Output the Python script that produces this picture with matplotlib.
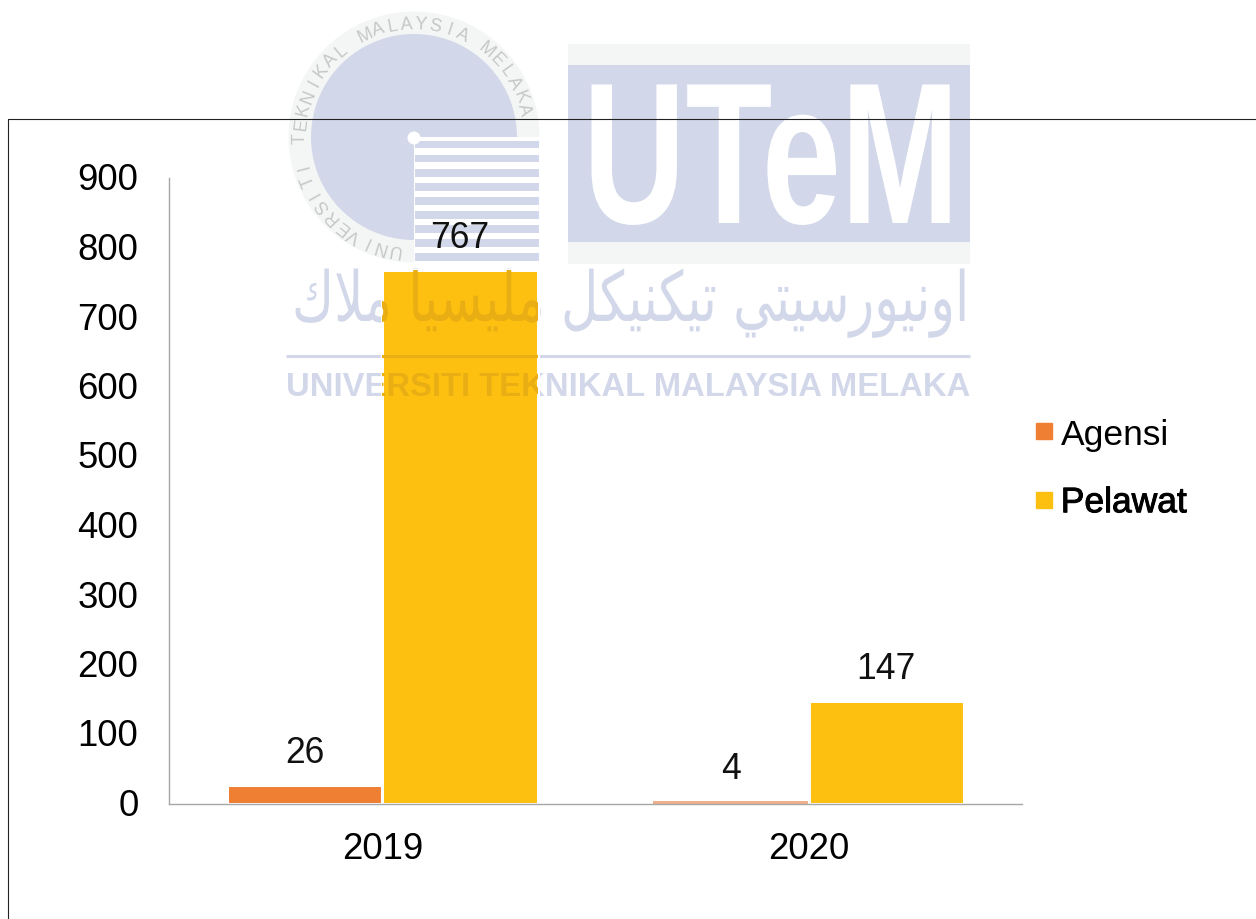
import numpy as np
import matplotlib
matplotlib.use("Agg")
import matplotlib.pyplot as plt
from matplotlib.patches import Patch, Rectangle, Wedge, Circle
from matplotlib.lines import Line2D
from matplotlib.transforms import Affine2D
from matplotlib import patheffects as pe

years = ["2019", "2020"]
series_names = ["Agensi", "Pelawat"]
agensi = [26, 4]
pelawat = [767, 147]
y_ticks = [0, 100, 200, 300, 400, 500, 600, 700, 800, 900]
seal_text = "UNIVERSITI TEKNIKAL MALAYSIA MELAKA"
logo_text = "UTeM"
uni_text = "UNIVERSITI TEKNIKAL MALAYSIA MELAKA"
# Jawi line in visual (left-to-right) order, as presentation forms
jawi_words = ["\uFED9\uFEFC\uFEE3",
              "\uFE8E\uFEF4\uFEB4\uFEF4\uFEE0\uFEE3",
              "\uFEDE\uFEDC\uFEF4\uFEE8\uFEDC\uFEF4\uFE97",
              "\uFEF2\uFE98\uFEF4\uFEB3\uFEAD\uFEEE\uFEF4\uFEE7\uFEED\uFE8D"]
jawi_text = " ".join(jawi_words)

plt.rcParams["font.family"] = ["Liberation Sans", "DejaVu Sans"]
W, H = 1256, 920
BLUE, PALE, GREY = "#D2D8E9", "#F4F6F5", "#C4C8C7"
fig = plt.figure(figsize=(W / 100, H / 100), dpi=100, facecolor="white")
rend = fig.canvas.get_renderer()


class Stretch(pe.AbstractPathEffect):
    def __init__(self, x0, sx, y0=0, sy=1):
        super().__init__()
        self.x0, self.sx, self.y0, self.sy = x0, sx, y0, sy

    def draw_path(self, renderer, gc, tpath, affine, rgbFace=None):
        t = affine + Affine2D().translate(-self.x0, -self.y0).scale(self.sx, self.sy).translate(self.x0, self.y0)
        renderer.draw_path(gc, tpath, t, rgbFace)


# ---- watermark (behind the chart) ----
wm = fig.add_axes([0, 0, 1, 1], zorder=0)
wm.set_xlim(0, W)
wm.set_ylim(H, 0)
wm.axis("off")
cx, cy = 414, 138
# y axis inverted: Wedge angles run clockwise on screen
wm.add_patch(Wedge((cx, cy), 125.5, 90, 360, fc=PALE, ec="none"))
wm.add_patch(Wedge((cx, cy), 103, 90, 360, fc=BLUE, ec="none"))
wm.add_patch(Wedge((cx, cy), 125.5, 0, 90, fc="white", ec="none"))
for yc in [145.5, 159.5, 174, 188, 202, 216, 230, 244, 258]:
    wm.add_patch(Rectangle((415, yc - 3.7), 124, 7.4, fc=BLUE, ec="none"))
wm.add_patch(Circle((414, 139), 6.5, fc="white", ec="none"))
for i, ch in enumerate(seal_text):
    a = np.deg2rad(260 - 7.23 * i)
    wm.text(cx + 113.5 * np.cos(a), cy - 113.5 * np.sin(a), ch, color=GREY, fontsize=13,
            rotation=np.rad2deg(a) - 90, rotation_mode="anchor", ha="center", va="center")

wm.add_patch(Rectangle((568, 44.5), 402, 220, fc=PALE, ec="none"))
wm.add_patch(Rectangle((568, 65.5), 402, 177, fc=BLUE, ec="none"))
logo = wm.text(583, 224, logo_text, color="white", fontsize=145, fontweight="bold",
               ha="left", va="baseline")
lw = logo.get_window_extent(rend).width
logo.set_path_effects([Stretch(583, 376 / lw)])


def fit(txt, width):
    txt.set_fontsize(txt.get_fontsize() * width / txt.get_window_extent(rend).width)


jawi = wm.text(292, 322, jawi_text, color=BLUE, fontsize=40, family=["DejaVu Sans"],
               ha="left", va="baseline")
fit(jawi, 678)
jawi_fx = Stretch(292, 1, H - 322, 1.35)
jawi.set_path_effects([jawi_fx])
wm.plot([286, 970], [357, 357], color=BLUE, lw=2.2, solid_capstyle="butt")
uni = wm.text(286, 396, uni_text, color=BLUE, fontsize=24, fontweight="bold",
              ha="left", va="baseline")
fit(uni, 684)

# ---- chart ----
L, R, T, B = 169, 1022, 179, 804.5
ax = fig.add_axes([L / W, 1 - B / H, (R - L) / W, (B - T) / H], zorder=1)
ax.patch.set_visible(False)
x = np.arange(len(years))
bw, step = 0.365, 0.182
bars_a = ax.bar(x - step, agensi, bw, color="#EF7F33", edgecolor="white", linewidth=2.2,
                label=series_names[0], zorder=2)
bars_b = ax.bar(x + step, pelawat, bw, color="#FDC010", edgecolor="white", linewidth=2.2,
                label=series_names[1], zorder=2)
bars_a[1].set_facecolor("#EFB08A")
bars_a[1].set_edgecolor("none")
bars_a[1].set_linewidth(0)
ax.set_xlim(-0.5, 1.5)
ax.set_ylim(0, 900)
ax.set_yticks(y_ticks)
ax.set_xticks(x, years)
ax.tick_params(axis="both", length=0, labelsize=26.3, colors="black")
ax.tick_params(axis="y", pad=22)
ax.tick_params(axis="x", pad=19.5)
for t in ax.get_yticklabels():
    t.set_transform(t.get_transform() + Affine2D().translate(0, 2))
for s in ["top", "right"]:
    ax.spines[s].set_visible(False)
for s in ["left", "bottom"]:
    ax.spines[s].set_color("#A6A6A6")
    ax.spines[s].set_linewidth(1.0)

# watermark seen through the tall bar
over = bars_b[0]
to_ax = wm.transData
o1 = ax.text(292, 322, jawi_text, transform=to_ax, color="#E9AE14", fontsize=jawi.get_fontsize(),
             family=["DejaVu Sans"], ha="left", va="baseline", zorder=3, clip_on=True)
o1.set_path_effects([jawi_fx])
o1.set_clip_path(over)
o2 = ax.text(286, 396, uni_text, transform=to_ax, color="#E9AE14", fontsize=uni.get_fontsize(),
             fontweight="bold", ha="left", va="baseline", zorder=3, clip_on=True)
o2.set_clip_path(over)
ln = Line2D([286, 970], [357, 357], transform=to_ax, color="#E9AE14", lw=2.2, zorder=3)
ax.add_line(ln)
ln.set_clip_path(over)

for bars in (bars_a, bars_b):
    for b in bars:
        ax.annotate(f"{int(b.get_height())}", (b.get_x() + b.get_width() / 2, b.get_height()),
                    xytext=(0, 23.5), textcoords="offset points", ha="center", va="center",
                    fontsize=25.6, color="#111111", zorder=4)

handles = [Patch(color="#EF7F33"), Patch(color="#FDC010")]
leg = fig.legend(handles, series_names, loc="upper left", bbox_to_anchor=(1036 / W, 1 - 419 / H),
                 bbox_transform=fig.transFigure, frameon=False, fontsize=25.5, borderpad=0,
                 borderaxespad=0, handlelength=0.45, handleheight=0.318, handletextpad=0.25,
                 labelspacing=0.995)
leg.set_zorder(5)
leg.get_texts()[1].set_path_effects([pe.withStroke(linewidth=0.7, foreground="black")])

# outer frame of the slide
fig.add_artist(Line2D([7.5 / W, 7.5 / W, 1], [0, 1 - 119.5 / H, 1 - 119.5 / H], color="#222222",
                      lw=0.8, zorder=6))

fig.savefig("out.png", dpi=100)
